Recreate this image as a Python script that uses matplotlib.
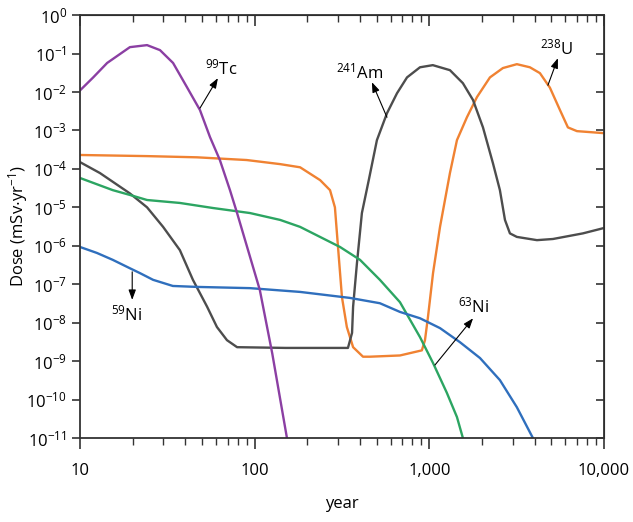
import math
import matplotlib
matplotlib.use("Agg")
import matplotlib.pyplot as plt
from matplotlib.ticker import FixedLocator, NullFormatter, FuncFormatter

plt.rcParams['font.family'] = ['Open Sans', 'DejaVu Sans']
plt.rcParams['mathtext.fontset'] = 'custom'
plt.rcParams['mathtext.rm'] = 'Open Sans'
plt.rcParams['mathtext.it'] = 'Open Sans'
plt.rcParams['mathtext.default'] = 'regular'

# data (year, dose in mSv/yr)
tc99_year = [10, 11.9, 14.3, 19.3, 24.2, 28.7, 34.1, 40.9, 48.6, 55.5, 63.2,
             72.2, 79.3, 107, 126, 153]
tc99_dose = [1.1e-2, 2.4e-2, 5.7e-2, 1.47e-1, 1.66e-1, 1.23e-1, 5.7e-2,
             1.35e-2, 3.4e-3, 6.7e-4, 1.7e-4, 2.8e-5, 7.1e-6, 7.1e-8,
             1.6e-9, 1.0e-11]

am241_year = [10, 13, 19.3, 24.2, 29.9, 37.3, 44.3, 53.4, 60.8, 69.4, 79.3,
              150, 342, 361, 366, 385, 411, 450, 501, 572, 653, 745, 884,
              1047, 1312, 1556, 1778, 2028, 2313, 2535, 2710, 2893, 3170,
              4130, 5100, 7570, 10000]
am241_dose = [1.5e-4, 7.8e-5, 2.3e-5, 1.0e-5, 3.1e-6, 7.7e-7, 1.3e-7, 2.6e-8,
              7.7e-9, 3.5e-9, 2.3e-9, 2.2e-9, 2.2e-9, 5.4e-9, 2.6e-8,
              3.5e-7, 7.1e-6, 5.1e-5, 5.6e-4, 2.8e-3, 9.3e-3, 2.4e-2, 4.4e-2,
              5.0e-2, 3.7e-2, 1.7e-2, 6.2e-3, 1.2e-3, 1.4e-4, 2.8e-5, 4.7e-6,
              2.1e-6, 1.7e-6, 1.4e-6, 1.5e-6, 2.1e-6, 2.9e-6]

u238_year = [10, 24.2, 46.8, 90, 140, 182, 237, 270, 288, 300, 316, 337, 366,
             417, 457, 679, 906, 944, 982, 1050, 1151, 1312, 1439, 1641,
             1874, 2223, 2637, 3170, 3764, 4296, 4900, 5595, 6214, 7000,
             10000]
u238_dose = [2.3e-4, 2.15e-4, 2.0e-4, 1.7e-4, 1.33e-4, 1.1e-4, 5.1e-5,
             2.8e-5, 1.0e-5, 9.3e-7, 4.6e-8, 7.7e-9, 2.3e-9, 1.3e-9, 1.3e-9,
             1.4e-9, 1.9e-9, 3.5e-9, 1.4e-8, 1.95e-7, 3.1e-6, 7.8e-5, 5.6e-4,
             2.2e-3, 7.4e-3, 2.4e-2, 4.2e-2, 5.3e-2, 4.4e-2, 3.1e-2, 1.3e-2,
             3.4e-3, 1.2e-3, 9.6e-4, 8.5e-4]

ni63_year = [10, 15.4, 19.3, 24.2, 37.3, 57.7, 94, 140, 182, 308, 401, 521,
             679, 884, 1050, 1259, 1439, 1556]
ni63_dose = [5.8e-5, 2.8e-5, 2.1e-5, 1.55e-5, 1.3e-5, 9.6e-6, 7.1e-6, 4.7e-6,
             3.1e-6, 9.3e-7, 4.3e-7, 1.3e-7, 3.4e-8, 4.2e-9, 8.9e-10,
             1.5e-10, 3.5e-11, 1.0e-11]

ni59_year = [10, 12.5, 15.4, 19.3, 22.0, 26.2, 34.0, 46.8, 94, 182, 351, 521,
             679, 884, 1151, 1497, 1950, 2535, 3170, 3915]
ni59_dose = [9.3e-7, 6.5e-7, 4.3e-7, 2.6e-7, 1.95e-7, 1.3e-7, 9.0e-8, 8.5e-8,
             7.9e-8, 6.3e-8, 4.4e-8, 3.2e-8, 1.9e-8, 1.3e-8, 7.2e-9, 3.1e-9,
             1.2e-9, 3.2e-10, 6.3e-11, 1.0e-11]

# label text, label position, arrow tail (on curve), arrow head
labels = ['$^{99}$Tc', '$^{241}$Am', '$^{238}$U', '$^{59}$Ni', '$^{63}$Ni']
label_xy = [(51.9, 4.2e-2), (401, 3.3e-2), (5370, 1.38e-1), (18.6, 1.6e-8),
            (1800, 2.6e-8)]
label_ha = ['left', 'center', 'center', 'center', 'center']
arrow_tail = [(48.6, 3.8e-3), (572, 2.2e-3), (4775, 1.5e-2), (19.9, 2.1e-7),
              (1077, 7.9e-10)]
arrow_head = [(61.6, 2.3e-2), (469, 1.8e-2), (5445, 7.6e-2), (19.9, 3.9e-8),
              (1780, 1.3e-8)]

c_tc = '#8b3fa3'
c_am = '#4d4d4d'
c_u = '#f08232'
c_ni63 = '#2ca562'
c_ni59 = '#2f6fbd'

fig = plt.figure(figsize=(6.33, 5.22), dpi=100)
ax = fig.add_axes([0.1264, 0.161, 0.8278, 0.810])

lw = 1.7
ax.plot(u238_year, u238_dose, color=c_u, lw=lw)
ax.plot(am241_year, am241_dose, color=c_am, lw=lw)
ax.plot(ni63_year, ni63_dose, color=c_ni63, lw=lw)
ax.plot(ni59_year, ni59_dose, color=c_ni59, lw=lw)
ax.plot(tc99_year, tc99_dose, color=c_tc, lw=lw)

ax.set_xscale('log')
ax.set_yscale('log')
ax.set_xlim(10, 10000)
ax.set_ylim(1e-11, 1)

minor_x = [m * d for d in (10, 100, 1000) for m in range(2, 10)]
ax.set_xticks([10, 100, 1000, 10000])
ax.xaxis.set_major_formatter(FuncFormatter(lambda v, p: f"{int(round(v)):,}"))
ax.xaxis.set_minor_locator(FixedLocator(minor_x))
ax.xaxis.set_minor_formatter(NullFormatter())
ax.set_yticks([10.0 ** e for e in range(-11, 1)])
ax.yaxis.set_major_formatter(FuncFormatter(
    lambda v, p: "$10^{%d}$" % round(math.log10(v))))
ax.yaxis.set_minor_locator(FixedLocator([]))

ax.tick_params(axis='both', which='major', labelsize=12, direction='out',
               length=6, width=1.2, color='#333333', top=False, right=False)
ax.tick_params(axis='x', which='major', length=8, pad=10)
ax.tick_params(axis='x', which='minor', direction='out', length=5, width=1,
               color='#333333')
for s in ax.spines.values():
    s.set_linewidth(1.3)
    s.set_color('#333333')

# inward ticks on top and right
top = ax.secondary_xaxis('top')
top.set_xticks([10, 100, 1000, 10000])
top.xaxis.set_minor_locator(FixedLocator(minor_x))
top.tick_params(which='major', direction='in', length=8, width=1.2,
                labeltop=False, color='#333333')
top.tick_params(which='minor', direction='in', length=5, width=1,
                color='#333333')
top.xaxis.set_major_formatter(NullFormatter())
top.xaxis.set_minor_formatter(NullFormatter())

right = ax.secondary_yaxis('right')
right.set_yticks([10.0 ** e for e in range(-11, 1)])
right.yaxis.set_minor_locator(FixedLocator([]))
right.tick_params(which='major', direction='in', length=6, width=1.2,
                  labelright=False, color='#333333')
right.yaxis.set_major_formatter(NullFormatter())

ax.set_xlabel('year', fontsize=12, labelpad=12)
ax.set_ylabel('Dose (mSv$\\cdot$yr$^{-1}$)', fontsize=12, labelpad=-3)

for lab, pos, ha, tail, head in zip(labels, label_xy, label_ha,
                                    arrow_tail, arrow_head):
    ax.text(pos[0], pos[1], lab, fontsize=12, ha=ha, va='center')
    ax.annotate('', xy=head, xytext=tail,
                arrowprops=dict(arrowstyle='-|>,head_length=0.6,head_width=0.22',
                                color='black', lw=0.8,
                                shrinkA=0, shrinkB=0))

fig.savefig('out.png', dpi=100)
